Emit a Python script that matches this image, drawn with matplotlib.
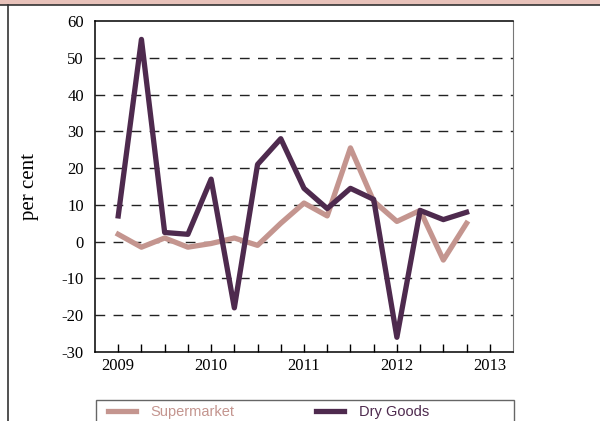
import matplotlib.pyplot as plt
from matplotlib.patches import Rectangle
from matplotlib.lines import Line2D

plt.rcParams['axes.unicode_minus'] = False

quarters = [2009.0, 2009.25, 2009.5, 2009.75, 2010.0, 2010.25, 2010.5, 2010.75,
            2011.0, 2011.25, 2011.5, 2011.75, 2012.0, 2012.25, 2012.5, 2012.75]
supermarket = [2, -1.5, 1, -1.5, -0.5, 1, -1, 5, 10.5, 7, 25.5, 11, 5.5, 8.5, -5, 5]
dry_goods = [7, 55, 2.5, 2, 17, -18, 21, 28, 14.5, 9, 14.5, 11.5, -26, 8.5, 6, 8]
year_ticks = [2009, 2010, 2011, 2012, 2013]
y_ticks = [-30, -20, -10, 0, 10, 20, 30, 40, 50, 60]

col_super = '#c4958f'
col_dry = '#4e2a4e'

fig = plt.figure(figsize=(6, 4.21), dpi=100)

# header band and frame
fig.patches.append(Rectangle((0, 1 - 4.5 / 421), 1, 4.5 / 421, transform=fig.transFigure,
                             facecolor='#e8c2ba', edgecolor='none'))
fig.lines.append(Line2D([0, 1], [1 - 4.5 / 421] * 2, transform=fig.transFigure, color='#333333', lw=1.2))
fig.lines.append(Line2D([7.5 / 600] * 2, [0, 1 - 4.5 / 421], transform=fig.transFigure, color='#333333', lw=1.2))

ax = fig.add_axes([95 / 600, 1 - 352 / 421, 418 / 600, 331 / 421])
ax.plot(quarters, supermarket, color=col_super, lw=3.8, label='Supermarket')
ax.plot(quarters, dry_goods, color=col_dry, lw=3.8, label='Dry Goods')

ax.set_yticks(y_ticks)
ax.set_xticks(year_ticks)
ax.set_xticks([2009 + 0.25 * i for i in range(17)], minor=True)
ax.set_xlim(2008.75, 2013.25)
ax.set_ylim(-30, 60)
ax.tick_params(axis='x', which='both', direction='in', length=6, width=1, pad=4)
ax.tick_params(axis='y', length=0, pad=8)
for lbl in ax.get_xticklabels() + ax.get_yticklabels():
    lbl.set_fontfamily('Liberation Serif')
    lbl.set_fontsize(12)

for v in [-20, -10, 0, 10, 20, 30, 40, 50]:
    ax.axhline(v, color='#222222', lw=1, dashes=(7, 6), zorder=0)

for s in ['top', 'left', 'bottom']:
    ax.spines[s].set_color('black')
    ax.spines[s].set_linewidth(1.1)
ax.spines['right'].set_color('#777777')

ax.set_ylabel('per cent', fontfamily='Liberation Serif', fontsize=15, labelpad=16)

# legend: frame drawn separately so the columns keep their own spacing
fig.patches.append(Rectangle((96 / 600, -0.05), 418 / 600, 0.05 + 1 - 400 / 421, transform=fig.transFigure,
                             facecolor='white', edgecolor='#666666', lw=1))
fig.legend(loc='upper left', bbox_to_anchor=(104 / 600, 1 - 401 / 421), ncol=2, frameon=False,
           labelcolor='linecolor', prop={'family': 'Liberation Sans', 'size': 10.5},
           handlelength=1.9, handletextpad=1.0, columnspacing=5.6, borderaxespad=0, borderpad=0.3)

fig.savefig('out.png', dpi=100)
